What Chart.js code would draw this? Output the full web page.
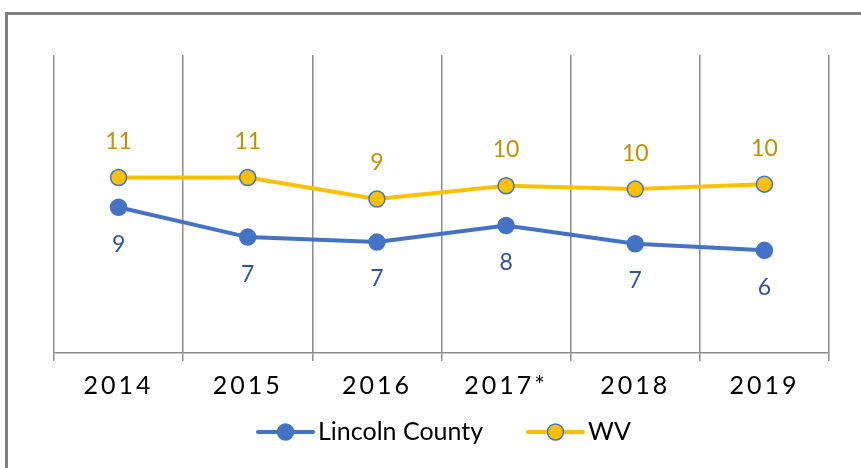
<!DOCTYPE html>
<html>
<head>
<meta charset="utf-8">
<script src="https://cdn.jsdelivr.net/npm/chart.js@4/dist/chart.umd.min.js"></script>
<style>
  html, body { margin: 0; padding: 0; background: #fff; overflow: hidden; }
  #wrap { position: relative; width: 861px; height: 468px; }
</style>
</head>
<body>
<div id="wrap"><canvas id="chart" width="861" height="468"></canvas></div>
<script>
const years = ["2014", "2015", "2016", "2017*", "2018", "2019"];
const lincoln = [8.8, 7.0, 6.7, 7.7, 6.6, 6.2];
const wv = [10.6, 10.6, 9.3, 10.1, 9.9, 10.2];

const BLUE = "#4472C4";
const GOLD = "#FFC000";
const FONT = "Lato, 'Open Sans', sans-serif";

// value labels: gold above WV, blue below Lincoln County
const valueLabels = {
  id: "valueLabels",
  afterDatasetsDraw(chart) {
    const ctx = chart.ctx;
    ctx.save();
    ctx.letterSpacing = "0px";
    ctx.font = "23px " + FONT;
    ctx.textAlign = "center";
    ctx.textBaseline = "middle";
    chart.data.datasets.forEach((ds, i) => {
      const meta = chart.getDatasetMeta(i);
      meta.data.forEach((pt, j) => {
        const above = ds.label === "WV";
        ctx.fillStyle = above ? "#BF9000" : "#2F5597";
        ctx.fillText(Math.round(ds.data[j]).toString(), pt.x, pt.y + (above ? -36 : 37));
      });
    });
    ctx.restore();
  }
};

// spaced-out axis text, plus frame and line-style legend
const decor = {
  id: "decor",
  beforeDraw(chart) {
    chart.ctx.letterSpacing = "3px";
  },
  beforeDatasetsDraw(chart) {
    chart.ctx.letterSpacing = "0px";
  },
  afterDraw(chart) {
    const ctx = chart.ctx;
    ctx.save();
    ctx.letterSpacing = "0px";
    ctx.strokeStyle = "#7F7F7F";
    ctx.lineWidth = 3;
    ctx.strokeRect(6.5, 13.5, 1000, 1000);

    const items = [
      { label: "Lincoln County", stroke: BLUE, fill: BLUE, x: 258 },
      { label: "WV", stroke: GOLD, fill: GOLD, x: 528 }
    ];
    const y = 432;
    items.forEach(it => {
      ctx.strokeStyle = it.stroke;
      ctx.lineWidth = 4;
      ctx.lineCap = "round";
      ctx.beginPath();
      ctx.moveTo(it.x, y);
      ctx.lineTo(it.x + 55, y);
      ctx.stroke();
      ctx.beginPath();
      ctx.arc(it.x + 27.5, y, 8, 0, Math.PI * 2);
      ctx.fillStyle = it.fill;
      ctx.fill();
      ctx.lineWidth = 1.5;
      ctx.strokeStyle = BLUE;
      ctx.stroke();
      ctx.fillStyle = "#000";
      ctx.font = "25px " + FONT;
      ctx.textAlign = "left";
      ctx.textBaseline = "middle";
      ctx.fillText(it.label, it.x + 60, y);
    });
    ctx.restore();
  }
};

new Chart(document.getElementById("chart"), {
  type: "line",
  data: {
    labels: years,
    datasets: [
      {
        label: "Lincoln County",
        data: lincoln,
        borderColor: BLUE,
        backgroundColor: BLUE,
        borderWidth: 4,
        pointRadius: 8,
        pointBorderWidth: 1.5,
        pointBorderColor: BLUE,
        pointBackgroundColor: BLUE,
        tension: 0
      },
      {
        label: "WV",
        data: wv,
        borderColor: GOLD,
        backgroundColor: GOLD,
        borderWidth: 4,
        pointRadius: 8,
        pointBorderWidth: 1.5,
        pointBorderColor: BLUE,
        pointBackgroundColor: GOLD,
        tension: 0
      }
    ]
  },
  options: {
    responsive: false,
    animation: false,
    layout: { padding: { left: 54, right: 32, top: 55, bottom: 57 } },
    plugins: {
      legend: { display: false },
      tooltip: { enabled: false }
    },
    scales: {
      y: { display: false, min: 0, max: 18 },
      x: {
        offset: true,
        grid: {
          offset: true,
          color: "#8C8C8C",
          lineWidth: 1.5,
          drawTicks: true,
          tickLength: 8,
          tickColor: "#8C8C8C"
        },
        border: { color: "#8C8C8C", width: 1.5 },
        ticks: {
          color: "#000",
          font: { family: FONT, size: 25 },
          padding: 10
        }
      }
    }
  },
  plugins: [valueLabels, decor]
});
</script>
</body>
</html>
